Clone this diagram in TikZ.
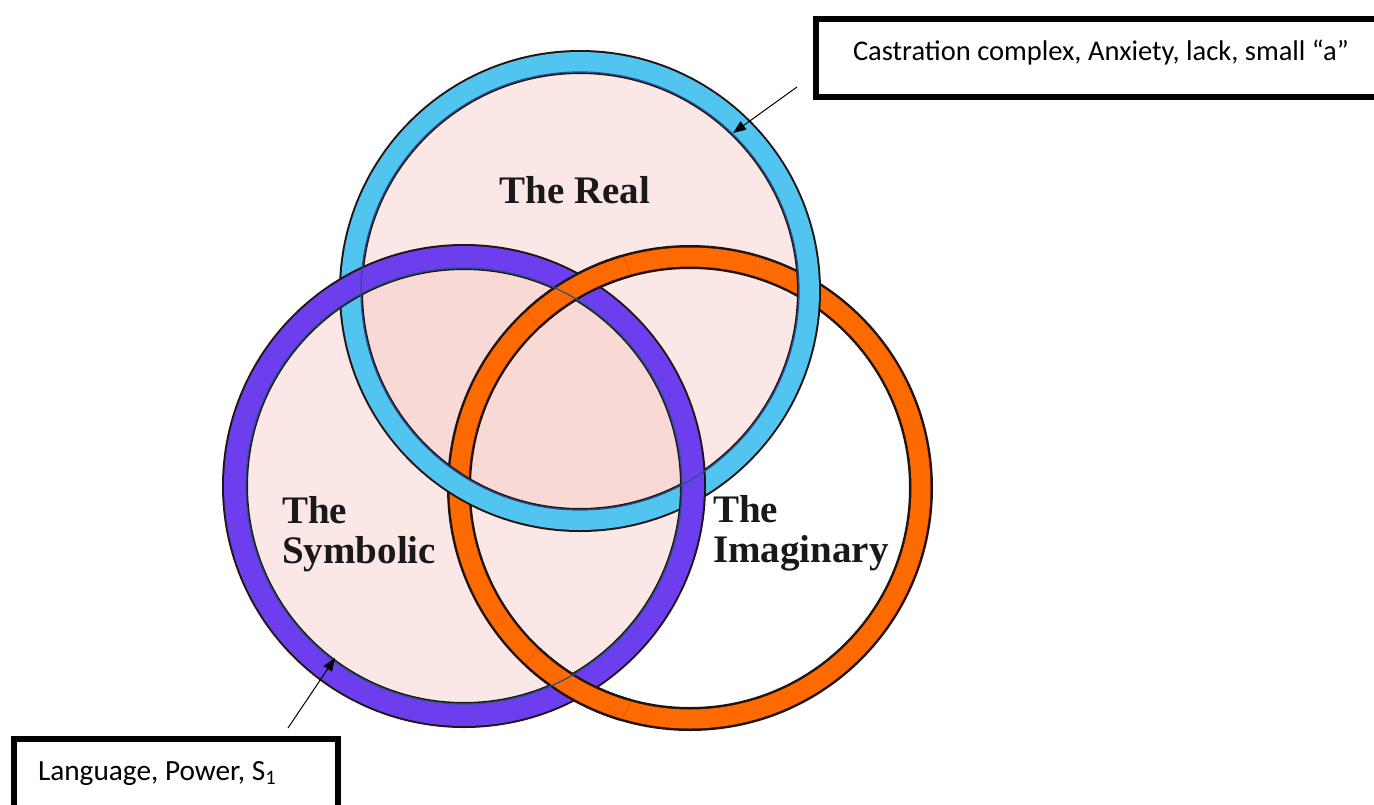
\documentclass[tikz,border=0pt]{standalone}
\usepackage{fontspec}
\setmainfont{Liberation Serif}
\newfontfamily\boxfont{Carlito}
\usetikzlibrary{arrows.meta}
\definecolor{realblue}{RGB}{82,196,240}
\definecolor{symbpurple}{RGB}{108,62,238}
\definecolor{imagorange}{RGB}{255,106,0}
\definecolor{thinblue}{RGB}{40,80,140}
\definecolor{ringedge}{RGB}{35,20,20}
\definecolor{pinkfill}{RGB}{246,190,185}
\begin{document}
\begin{tikzpicture}[x=1pt,y=-1pt,
  edgering/.style={draw=ringedge, line width=#1},
  thinring/.style={draw=thinblue, line width=1.3pt},
  diskfill/.style={fill=pinkfill, fill opacity=0.35},
  ringlabel/.style={font=\bfseries\fontsize{39}{40}\selectfont, text=black!90, inner sep=0pt, align=left},
  notebox/.style={draw=black, line width=6pt, inner ysep=0pt, font=\boxfont\fontsize{28.5}{30}\selectfont, align=flush left},
  pointer/.style={draw=black, line width=1pt, -{Triangle[length=13pt,width=10pt]}}]
\useasboundingbox (0,0) rectangle (1374,804);
\clip (0,0) rectangle (1374,804);
\fill[white] (0,0) rectangle (1374,804);
% centres
\coordinate (R) at (580,291);
\coordinate (S) at (464,486);
\coordinate (I) at (690,488);
% fills
\fill[diskfill] (R) circle[radius=229pt];
\fill[diskfill] (S) circle[radius=229pt];
% orange ring (Imaginary)
\draw[edgering=24pt] (I) circle[radius=231pt];
\draw[imagorange, line width=19pt] (I) circle[radius=231pt];
% cyan ring (Real)
\draw[edgering=24pt] (R) circle[radius=229pt];
\draw[realblue, line width=20pt] (R) circle[radius=229pt];
% purple ring (Symbolic)
\draw[edgering=26pt] (S) circle[radius=229pt];
\draw[symbpurple, line width=22pt] (S) circle[radius=229pt];
% orange passes over purple
\begin{scope}
  \clip (577,287) circle[radius=55pt] (577,687) circle[radius=55pt];
  \draw[edgering=24pt] (I) circle[radius=231pt];
  \draw[imagorange, line width=19pt] (I) circle[radius=231pt];
\end{scope}
% thin inner lines
\draw[thinring] (R) circle[radius=219pt];
\draw[thinring] (S) circle[radius=218pt];
% labels
\node[ringlabel, anchor=base] (real) at (575,203) {The Real};
\node[ringlabel, anchor=north west] (symb) at (282,496.5) {The\\Symbolic};
\node[ringlabel, anchor=north west] (imag) at (713,495.5) {The\\Imaginary};
% boxes
\node[notebox, anchor=north west, inner xsep=37pt, text height=41pt, text depth=37pt, text width=700pt] (boxA) at (813,16) {Castration complex, Anxiety, lack, small “a”};
\node[notebox, anchor=north west, inner xsep=24pt, text height=41pt, text depth=70pt, text width=276pt, font=\boxfont\fontsize{29.3}{30}\selectfont] (boxB) at (11,736) {Language, Power, S\textsubscript{1}};
% pointers
\coordinate (a1s) at (797,87);
\coordinate (a1e) at (733,133);
\coordinate (a2s) at (288,728);
\coordinate (a2e) at (335,658);
\draw[pointer] (a1s) -- (a1e);
\draw[pointer] (a2s) -- (a2e);
\end{tikzpicture}
\end{document}
